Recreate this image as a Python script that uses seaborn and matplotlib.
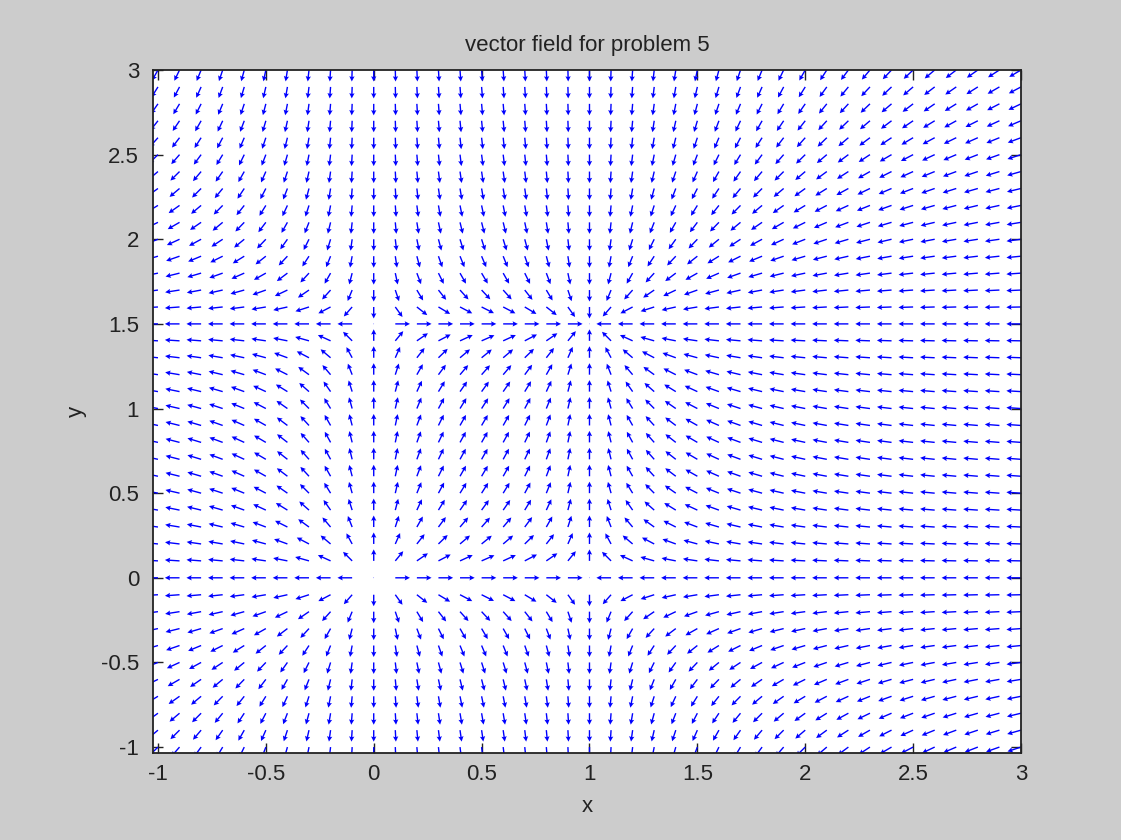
import numpy as np
import matplotlib
matplotlib.use("Agg")
import matplotlib.pyplot as plt
import seaborn as sns

# ---- data -------------------------------------------------------------
title_text = "vector field for problem 5"
x_label = "x"
y_label = "y"
x_grid = np.linspace(-1.0, 3.0, 41)          # grid columns (step 0.1)
y_grid = np.linspace(-1.0, 3.0, 41)          # grid rows (step 0.1)
x_roots = [0.0, 1.0]                         # dx/dt = x (1 - x)
y_roots = [0.0, 1.5]                         # dy/dt = y (1.5 - y)
x_ticks = [-1, -0.5, 0, 0.5, 1, 1.5, 2, 2.5, 3]
y_ticks = [-1, -0.5, 0, 0.5, 1, 1.5, 2, 2.5, 3]
x_tick_labels = ["-1", "-0.5", "0", "0.5", "1", "1.5", "2", "2.5", "3"]
y_tick_labels = ["-1", "-0.5", "0", "0.5", "1", "1.5", "2", "2.5", "3"]

# ---- field (direction field, normalised) ------------------------------
X, Y = np.meshgrid(x_grid, y_grid)
DX = -(X - x_roots[0]) * (X - x_roots[1])
DY = -(Y - y_roots[0]) * (Y - y_roots[1])
N = np.hypot(DX, DY)
N[N == 0] = 1.0
arrow_len = 0.068
U = arrow_len * DX / N
V = arrow_len * DY / N

# ---- plot -------------------------------------------------------------
sns.set_theme(style="ticks")
plt.rcParams["font.family"] = ["Liberation Sans", "DejaVu Sans"]

fig = plt.figure(figsize=(11.21, 8.40), dpi=100, facecolor="#cccccc")
ax = fig.add_axes([153 / 1121, 1 - 753 / 840, (1021 - 153) / 1121, (753 - 70) / 840])
ax.set_facecolor("white")

ax.quiver(X, Y, U, V, angles="xy", scale_units="xy", scale=1, pivot="tail",
          color="#0000ff", width=0.0016, headwidth=3.8, headlength=3.8,
          headaxislength=3.3, minlength=0.5)

ax.set_xlim(-1.023, 3.0)
ax.set_ylim(-1.035, 3.0)
ax.set_xticks(x_ticks)
ax.set_xticklabels(x_tick_labels)
ax.set_yticks(y_ticks)
ax.set_yticklabels(y_tick_labels)
ax.tick_params(direction="in", length=7, width=1, top=True, right=True,
               labelsize=16, colors="#222222", pad=8)
ax.tick_params(axis="y", pad=10)
for s in ax.spines.values():
    s.set_visible(True)
    s.set_linewidth(1.3)
    s.set_color("#222222")

ax.set_title(title_text, fontsize=16, pad=14, color="#222222")
ax.set_xlabel(x_label, fontsize=16, labelpad=8, color="#222222")
ax.set_ylabel(y_label, fontsize=16, labelpad=10, color="#222222")

fig.savefig("out.png", dpi=100, facecolor=fig.get_facecolor())
